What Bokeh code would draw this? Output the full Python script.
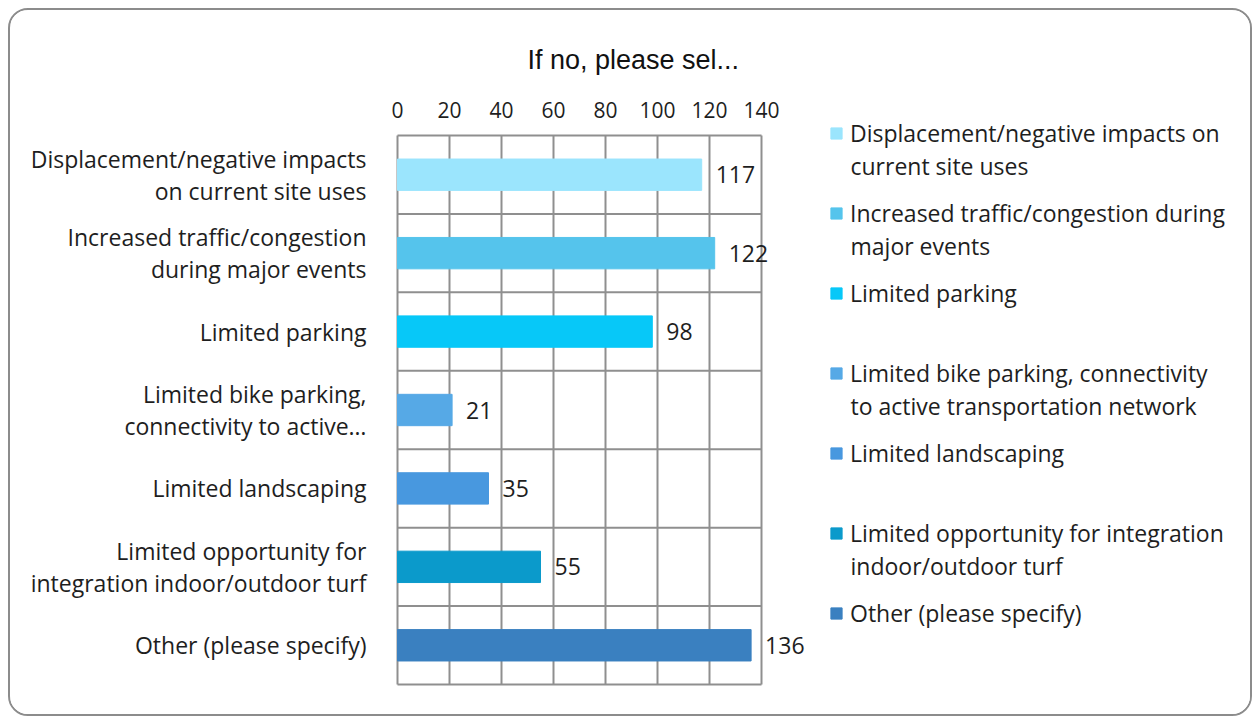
from bokeh.plotting import figure
from bokeh.models import (Range1d, FixedTicker, LabelSet, ColumnDataSource, Legend,
                          LegendItem, Title, Label)
from bokeh.core.properties import value
from bokeh.embed import file_html
from bokeh.resources import INLINE

# ---- data ----
categories = [
    "Displacement/negative impacts on current site uses",
    "Increased traffic/congestion during major events",
    "Limited parking",
    "Limited bike parking, connectivity to active transportation network",
    "Limited landscaping",
    "Limited opportunity for integration indoor/outdoor turf",
    "Other (please specify)",
]
axis_labels = [
    "Displacement/negative impacts\non current site uses",
    "Increased traffic/congestion\nduring major events",
    "Limited parking",
    "Limited bike parking,\nconnectivity to active…",
    "Limited landscaping",
    "Limited opportunity for\nintegration indoor/outdoor turf",
    "Other (please specify)",
]
legend_line1 = [
    "Displacement/negative impacts on",
    "Increased traffic/congestion during",
    "Limited parking",
    "Limited bike parking, connectivity",
    "Limited landscaping",
    "Limited opportunity for integration",
    "Other (please specify)",
]
legend_line2 = [
    "current site uses",
    "major events",
    "",
    "to active transportation network",
    "",
    "indoor/outdoor turf",
    "",
]
values = [117, 122, 98, 21, 35, 55, 136]
colors = ["#9BE5FD", "#55C4EC", "#07C8F8", "#56A9E6", "#4898DF", "#0B9ACB", "#3A80C0"]
x_ticks = [0, 20, 40, 60, 80, 100, 120, 140]
x_max = 140
title_text = "If no, please sel..."

FONT = "Open Sans"
FS = "23px"
TXT = "#1e1e1e"
GRID = "#8f8f8f"

n = len(categories)
ys = [i + 0.5 for i in range(n)]
src = ColumnDataSource(dict(y=ys, v=values, c=colors, lbl=[str(v) for v in values], cat=categories))

# ---- layout (pixels) ----
BOX_W, BOX_H = 364, 549          # size of the 0..140 x 7-row chart box
PAD_L, PAD_B, PAD_T = 3, 3, 18   # frame padding around the chart box
FRAME_W = 841
FRAME_H = BOX_H + PAD_T + PAD_B
ux = x_max / BOX_W               # data units per px
uy = n / BOX_H

p = figure(width=1240, height=704, output_backend="svg", toolbar_location=None,
           x_range=Range1d(-PAD_L * ux, (FRAME_W - PAD_L) * ux),
           y_range=Range1d(n + PAD_B * uy, -PAD_T * uy),
           x_axis_location="above",
           frame_width=FRAME_W, frame_height=FRAME_H,
           min_border_left=384, min_border_right=15, min_border_top=107, min_border_bottom=27)
p.styles = {"border": "2px solid #8c8c8c", "border-radius": "20px", "overflow": "hidden",
            "margin": "8px 0 0 8px"}
p.background_fill_color = "white"
p.border_fill_color = "white"
p.outline_line_color = None
p.xgrid.grid_line_color = None
p.ygrid.grid_line_color = None

p.title = Title(text=title_text, align="left", offset=133, text_font="Liberation Sans",
                text_font_size="27px", text_font_style="normal", text_color="#111111",
                standoff=48)

# chart box grid (drawn from tick values and category count)
p.segment(x0=x_ticks, x1=x_ticks, y0=[0] * len(x_ticks), y1=[n] * len(x_ticks),
          line_color=GRID, line_width=2)
row_edges = list(range(n + 1))
p.segment(x0=[0] * len(row_edges), x1=[x_max] * len(row_edges), y0=row_edges, y1=row_edges,
          line_color=GRID, line_width=2)

r = p.hbar(y="y", right="v", left=0, height=0.4, color="c", source=src)

labels = LabelSet(x="v", y="y", text="lbl", source=src, x_offset=14, text_baseline="middle",
                  text_font=value(FONT), text_font_size=FS, text_color=TXT)
p.add_layout(labels)

# axes
xa = p.xaxis[0]
xa.ticker = FixedTicker(ticks=x_ticks)
xa.axis_line_color = None
xa.major_tick_line_color = None
xa.minor_tick_line_color = None
xa.major_label_text_font = FONT
xa.major_label_text_font_size = "21px"
xa.major_label_text_color = TXT
xa.major_label_standoff = -6

ya = p.yaxis[0]
ya.ticker = FixedTicker(ticks=ys)
ya.major_label_overrides = {y: lab for y, lab in zip(ys, axis_labels)}
ya.axis_line_color = None
ya.major_tick_line_color = None
ya.minor_tick_line_color = None
ya.major_label_text_font = FONT
ya.major_label_text_font_size = FS
ya.major_label_text_color = TXT
ya.major_label_text_line_height = 1.0
ya.major_label_standoff = 22

# legend (first lines) + second lines as labels
LBL_H = 32
SPACING = 48
LINE2 = 32
items = [LegendItem(label=legend_line1[i], renderers=[r], index=i) for i in range(n)]
leg_h = n * LBL_H + (n - 1) * SPACING
leg_x = 435
legend = Legend(items=items, location=(leg_x, FRAME_H - leg_h), border_line_color=None,
                background_fill_alpha=0,
                label_text_font=FONT, label_text_font_size=FS, label_text_color=TXT,
                glyph_width=14, glyph_height=14, spacing=SPACING, padding=0, margin=0,
                label_standoff=7, label_height=LBL_H)
p.add_layout(legend, "center")

for i in range(n):
    if legend_line2[i]:
        cy = LBL_H / 2 + i * (LBL_H + SPACING) + LINE2
        p.add_layout(Label(x=leg_x + 21, y=FRAME_H - cy, x_units="screen", y_units="screen",
                           text=legend_line2[i], text_baseline="middle",
                           text_font=FONT, text_font_size=FS, text_color=TXT))

open("out.html", "w").write(file_html(p, INLINE))
